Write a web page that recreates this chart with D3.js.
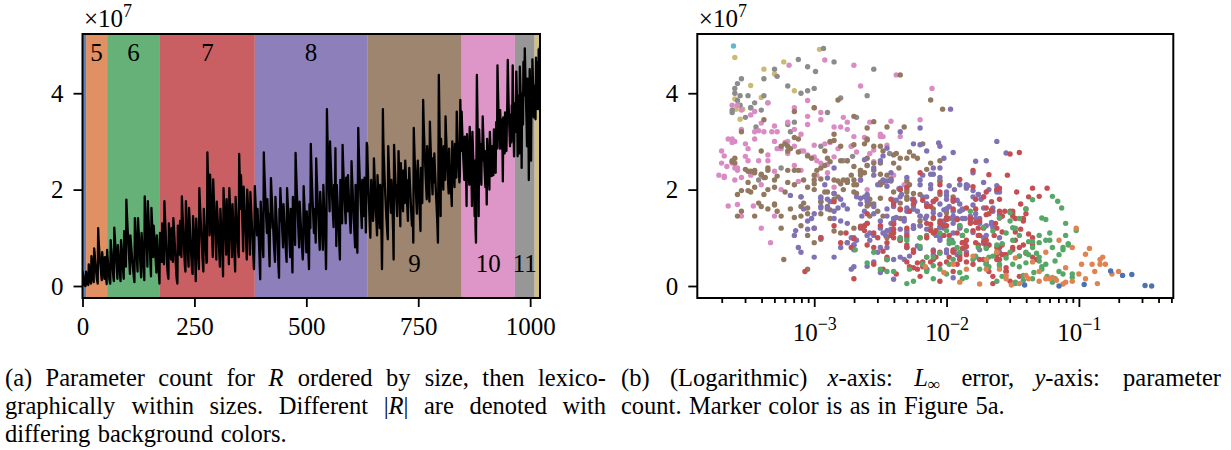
<!DOCTYPE html>
<html>
<head>
<meta charset="utf-8">
<script src="https://cdn.jsdelivr.net/npm/d3@7"></script>
<style>
body { margin: 0; background: #fff; }
</style>
</head>
<body>
<svg id="fig" width="1231" height="450"></svg>
<script>
// parameter counts (x 1e7) per |R|, in lexicographic order within each size
var p4 = [0.31,0.24,0.22,0.03,0.02,0.01,0.00,0.00];
var p5 = [0.30,0.22,0.15,0.08,0.04,0.02,
  0.45,0.35,0.28,0.18,0.10,0.05,
  0.62,0.50,0.40,0.30,0.15,0.08,
  0.78,0.70,0.55,0.45,0.35,0.25,0.15,0.10,0.05,
  1.20,0.95,0.80,0.66,0.55,0.45,0.35,0.22,0.12,
  0.70,0.58,0.45,0.38,0.25,0.15,
  0.60,0.45,0.30,0.15,0.04];
var p6 = [0.75,0.60,0.48,0.35,0.25,0.15,0.08,0.05,
  0.95,0.80,0.70,0.55,0.42,0.30,0.18,0.10,
  1.21,1.05,0.90,0.75,0.60,0.45,0.30,0.15,
  0.85,0.70,0.58,0.45,0.35,0.22,0.10,
  0.95,0.82,0.68,0.55,0.40,0.28,0.15,
  1.14,0.95,0.78,0.60,0.40,
  1.79,1.55,1.35,1.15,0.98,0.80,0.62,0.45,0.25,
  1.05,0.92,0.80,0.68,0.55,0.45,0.35,0.25,0.15,0.08,
  1.41,1.20,1.00,0.85,0.65,0.48,0.30,
  1.41,1.22,1.05,0.88,0.70,0.52,0.35,0.18,
  1.10,0.95,0.80,0.62,0.45,0.30,0.12,
  1.86,1.60,1.38,1.15,0.92,0.70,0.40,
  1.76,1.52,1.30,1.10,0.88,0.65,0.42,0.20,
  1.62,1.40,1.15,0.90,0.60,
  1.25,1.10,0.95,0.80,0.62,0.45,0.28,
  1.05,0.88,0.70,0.52,0.35,0.20,0.05];
var p7 = [1.10,0.95,0.80,0.65,0.50,1.30,1.12,0.90,0.70,0.45,
  1.76,1.50,1.28,1.05,0.85,0.65,0.45,0.30,0.20,0.15,
  1.30,1.15,1.00,0.85,0.70,0.55,1.20,0.98,0.75,0.50,
  1.41,1.25,1.08,0.90,0.72,0.55,0.38,0.20,0.10,0.05,
  1.25,1.10,0.95,0.80,0.65,1.35,1.15,0.90,0.60,
  1.86,1.62,1.40,1.18,0.95,0.75,0.55,0.38,0.30,
  1.76,1.50,1.25,1.00,0.78,0.55,0.40,
  1.62,1.42,1.20,1.00,0.82,0.62,0.45,0.30,0.25,
  1.45,1.28,1.10,0.92,0.72,0.50,0.10,
  1.40,1.22,1.05,0.85,0.68,0.50,0.35,
  2.03,1.80,1.58,1.38,1.18,0.98,0.80,0.60,0.45,0.30,
  1.60,1.42,1.25,1.05,0.85,0.65,0.48,0.50,
  2.77,2.40,2.10,1.80,1.50,1.05,
  2.31,2.05,1.80,1.55,1.30,0.90,0.60,
  2.21,1.95,1.70,1.48,1.25,1.00,0.75,0.55,
  1.75,1.55,1.38,1.20,1.00,0.80,0.60,0.40,
  1.60,1.40,1.20,1.00,0.80,0.55,0.20,
  2.03,1.80,1.58,1.35,1.12,0.90,0.65,
  1.80,1.55,1.30,1.05,0.80,0.45,
  2.03,1.78,1.55,1.32,1.10,0.85,0.60,
  1.70,1.50,1.30,1.10,0.85,0.55,0.30,
  1.85,1.65,1.45,1.25,1.05,0.85,0.70,0.60,
  2.74,2.35,1.95,1.60,
  2.30,2.00,1.70,1.40,1.05,0.72,
  2.06,1.85,1.65,1.45,1.25,1.05,0.80,0.55,
  2.00,1.80,1.60,1.40,1.15,0.90,0.65,
  1.95,1.75,1.55,1.35,1.15,0.95,0.75,0.55,0.35,0.85];
var p8 = [2.07,1.85,1.65,1.45,1.25,1.05,1.60,1.40,1.18,0.95,0.70,0.40,0.14,
  1.75,1.55,1.35,1.15,0.95,0.75,0.60,
  2.77,2.45,2.20,1.95,1.70,1.50,1.30,1.10,1.80,1.55,1.30,1.00,0.70,0.41,
  1.50,1.20,
  2.24,2.00,1.80,1.60,1.40,1.20,1.00,0.80,0.65,0.50,
  1.85,1.65,1.45,1.25,1.05,0.85,0.60,0.35,0.17,
  1.60,1.35,
  2.03,1.82,1.60,1.40,1.20,1.00,0.80,
  1.70,1.52,1.35,1.18,1.00,0.80,0.62,0.50,
  2.03,1.82,1.62,1.42,1.22,1.00,0.78,0.60,
  1.60,1.30,1.00,0.65,0.28,
  1.85,1.65,1.45,1.25,1.05,0.85,
  2.76,2.45,2.18,1.92,1.68,1.45,1.22,1.00,0.80,
  1.75,1.58,1.40,1.22,1.05,0.88,0.70,0.55,0.75,
  2.07,1.85,1.62,1.40,1.18,0.95,0.70,
  1.55,1.35,1.10,0.85,0.60,0.35,
  1.70,1.45,1.20,
  2.95,2.60,2.30,2.02,1.78,1.55,1.32,1.10,1.60,1.38,1.15,0.90,
  2.65,2.35,2.10,1.85,1.62,1.40,1.18,0.95,0.75,
  1.95,1.75,1.55,1.35,1.15,0.95,0.75,
  2.10,1.85,1.60,1.35,1.10,0.80,0.35,1.20,
  3.67,3.20,2.80,2.45,2.15,1.85,1.55,
  3.00,2.70,2.45,2.20,1.98,1.78,1.58,1.40,1.22,2.10,1.85,1.60,
  2.86,1.90,0.83,
  2.10,1.90,1.70,1.50,1.30,1.05,0.80,
  0.55,2.20,2.00,1.80,1.55,1.30,
  2.93,2.62,2.35,2.10,1.88,1.68,1.48,1.30,2.25,2.02,1.80,1.55,
  2.30,2.08,1.88,1.68,1.48,1.28,1.10,1.40,
  2.59,2.32,2.08,1.85,1.62,1.40,1.20,1.00,0.80,
  2.10,1.75,1.40,1.05,0.69,1.90,
  3.28,2.90,2.60,2.32,2.08,1.85,1.62,1.40,1.20,2.20,
  2.00,1.80,1.62,1.45,2.25,1.95,1.65,1.11,1.90,
  2.97];
var p9 = [2.90,2.55,2.25,1.95,1.70,1.45,1.20,1.00,1.65,
  2.20,1.95,1.75,1.55,1.35,1.50,
  2.65,2.40,2.15,1.90,1.68,1.45,1.25,1.05,
  2.30,2.05,1.82,1.60,1.40,1.20,
  2.10,1.80,1.45,1.05,0.35,1.20,
  3.67,3.03,2.70,2.45,2.20,1.98,1.78,1.58,1.40,1.25,1.10,
  0.97,
  2.90,2.60,2.35,2.12,1.90,1.70,1.52,2.20,1.95,1.70,1.45,1.10,
  0.55,
  2.93,2.65,2.40,2.18,1.98,1.80,1.62,1.45,2.10,1.85,
  2.80,2.40,2.00,1.60,
  1.24,
  2.55,2.32,2.12,1.92,1.72,1.55,2.40,2.18,1.95,1.72,
  2.60,2.38,2.15,1.95,1.75,1.55,1.35,2.20,1.90,
  2.45,2.22,2.00,1.80,1.60,1.42,1.25,1.65,1.40,
  0.90,
  3.28,2.95,2.65,2.40,2.15,1.92,1.70,1.50,2.30,
  2.60,2.35,2.10,1.85,1.60,1.40,
  1.14,
  2.45,2.20,1.95,1.72,2.55,
  3.86,3.45,3.15,2.90,2.65,2.42,2.20,2.00,1.80,2.90,2.65,2.40,2.18,1.95,1.75,
  3.41,3.08,2.80,2.55,2.32,2.10,1.90,2.65,2.40,2.15,
  2.75,2.50,2.28,2.05,1.85,1.65,1.45,1.20,
  0.90,
  2.30,
  4.38,3.70,3.05,2.40,
  1.45,
  3.05,2.80,2.58,2.38,2.18,2.00,2.90,2.65,2.42,2.20,
  3.52,3.20,2.95,2.72,2.50,2.30,2.10,1.92,2.85,2.60,2.38,2.18,2.00,1.85,
  1.66,
  3.00,2.78,2.58,2.40,2.22,2.05,2.95,2.70,2.48,2.25,
  3.62,3.30,3.02,2.78,2.55,2.35,2.15,2.30,
  3.86,3.30,2.80];
var p10 = [3.62,3.30,3.05,2.80,2.58,2.38,2.20,3.10,2.85,2.55,2.25,
  1.66,
  3.15,2.92,2.70,2.50,2.30,2.10,3.30,3.00,2.72,2.45,2.20,
  1.66,
  3.20,2.90,2.60,2.30,2.00,
  1.45,2.60,1.20,
  0.90,2.60,
  4.38,3.70,3.10,2.55,
  1.45,
  3.25,2.98,2.75,2.52,2.30,2.10,2.95,2.60,
  3.52,3.20,2.92,2.68,2.45,2.25,2.05,2.80,2.40,
  1.69,
  3.05,2.82,2.60,2.40,2.20,2.00,3.20,2.95,2.72,2.50,2.28,
  2.90,2.68,2.48,2.30,3.25,3.00,2.78,2.55,2.35,3.40,3.10,2.85,
  4.58,4.10,3.70,3.38,3.10,2.85,3.65,3.35,3.08,2.85,3.45,3.00,
  2.17,
  3.50,3.22,2.98,2.75,3.60,3.32,3.05,2.80,3.40,3.80,
  4.69,4.15,3.75,3.42,3.15,2.90,3.55,3.25,2.98,3.75,3.45,
  4.58,3.85,3.20,2.69,3.40];
var p11 = [3.80,3.50,3.20,4.45,4.10,3.80,2.69,3.95,3.65,3.30,2.75,
  4.55,4.20,3.90,3.60,2.45,4.00,3.70,3.35,4.65,4.30,3.95,
  4.93,4.50,4.10,3.75,3.40,2.90,4.30,3.95,3.60,2.20,3.65,
  4.50,4.15,3.85,2.60,4.05,3.70,4.70,4.35,4.00,3.50,3.95];
var p12 = [3.88,4.16,3.46,4.74,3.67,4.40,3.91,4.65,3.67,4.91,4.05,4.50];
var p13 = [4.98];

// log10 of the L-infinity error, same order as above
var e4 = [-0.76,-0.60,-0.67,-0.96,-1.41,-0.50,-0.45,-1.15];
var e5 = [-1.30,-1.55,-0.95,-1.90,-1.12,-1.51,-0.84,-1.70,-2.02,-1.20,
  -1.05,-1.45,-1.80,-1.35,-2.16,-0.88,-1.25,-1.10,-0.92,-1.62,
  -0.84,-0.98,-1.60,-1.00,-1.38,-1.30,-0.86,-1.02,-1.15,-1.05,
  -0.95,-1.70,-0.80,-1.85,-1.40,-1.17,-1.25,-1.48,-0.90,-1.10,
  -0.75,-1.55,-0.82,-1.95,-0.70,-1.22,-1.75];
var e6 = [-2.69,-1.30,-2.60,-1.75,-1.05,-2.10,-1.48,-2.30,-1.22,-1.92,
  -1.40,-2.45,-1.60,-1.15,-1.85,-2.25,-1.50,-1.30,-1.95,-1.12,
  -2.15,-1.70,-2.40,-1.35,-1.08,-2.55,-1.55,-1.98,-2.05,-1.42,
  -1.62,-1.25,-2.20,-2.05,-1.80,-1.28,-1.90,-1.18,-1.65,-2.30,
  -1.70,-2.10,-1.45,-1.35,-1.82,-1.52,-1.02,-2.35,-1.20,-1.65,
  -1.60,-2.00,-1.10,-1.38,-1.76,-1.32,-1.95,-1.50,-2.50,-1.12,
  -1.88,-1.20,-1.60,-1.48,-2.20,-1.62,-1.15,-1.40,-2.15,-1.28,
  -1.72,-1.45,-1.98,-1.52,-1.30,-2.28,-1.05,-1.55,-1.98,-1.12,
  -1.78,-1.25,-2.45,-1.42,-1.20,-1.40,-1.25,-2.00,-1.35,-1.90,
  -1.68,-1.16,-1.52,-1.10,-2.05,-1.58,-1.38,-2.10,-1.24,-1.13,
  -1.45,-1.85,-1.30,-1.68,-1.90,-1.22,-1.50,-1.35,-1.45,-2.18,
  -1.34,-1.88,-1.08,-1.62,-1.18,-1.28,-1.58,-1.48];
var e7 = [-2.10,-1.85,-2.55,-1.62,-2.30,-2.05,-1.48,-2.80,-2.25,-1.70,
  -1.95,-1.40,-2.40,-1.75,-2.60,-1.90,-2.05,-1.55,-2.20,-2.70,
  -1.63,-1.80,-2.15,-1.35,-1.95,-2.45,-1.72,-2.35,-1.50,-2.00,
  -1.60,-2.50,-1.38,-1.88,-2.10,-1.75,-2.25,-1.45,-2.05,-1.65,
  -2.85,-1.92,-1.48,-2.30,-1.58,-2.05,-2.62,-1.78,-2.15,-1.30,
  -1.85,-1.42,-2.40,-1.70,-1.95,-2.45,-1.55,-1.68,-2.10,-1.50,
  -2.02,-2.95,-1.88,-1.32,-2.28,-1.70,-2.00,-1.62,-2.20,-1.85,
  -1.45,-2.55,-1.95,-2.38,-1.58,-2.12,-2.76,-1.72,-1.95,-2.18,
  -1.52,-1.82,-2.65,-2.30,-1.76,-1.40,-2.12,-2.48,-1.60,-2.25,
  -1.66,-1.92,-1.44,-2.70,-1.60,-2.08,-1.80,-1.55,-2.35,-2.10,
  -1.90,-2.42,-1.68,-1.55,-2.22,-1.85,-1.45,-1.80,-2.05,-1.60,
  -2.60,-1.98,-1.68,-2.30,-1.78,-1.50,-2.15,-1.88,-2.45,-1.90,
  -1.47,-2.40,-1.70,-2.02,-1.35,-2.25,-1.72,-2.85,-1.56,-2.00,
  -1.76,-2.52,-1.62,-1.90,-2.18,-1.40,-1.82,-2.30,-2.40,-1.50,
  -2.10,-1.65,-1.24,-1.95,-2.35,-1.75,-1.58,-2.45,-1.85,-2.08,
  -1.60,-2.60,-2.02,-1.45,-1.92,-1.35,-2.18,-1.52,-1.78,-2.40,
  -1.42,-1.98,-2.25,-1.68,-1.82,-2.55,-2.30,-1.62,-3.07,-1.72,
  -2.12,-1.50,-2.62,-1.88,-1.58,-2.05,-1.35,-1.52,-2.20,-1.70,
  -1.95,-1.54,-2.35,-1.44,-2.00,-1.76,-2.48,-1.80,-1.38,-2.15,
  -1.58,-2.00,-1.64,-2.72,-1.90,-1.62,-2.42,-1.78,-1.48,-2.12,
  -1.86,-1.56,-2.05,-1.66,-2.28,-1.42,-2.08,-2.35,-1.94,-1.60,
  -2.22,-1.70];
var e8 = [-2.45,-1.80,-2.95,-2.15,-1.70,-2.60,-2.25,-1.95,-3.05,-2.35,
  -1.85,-2.70,-2.40,-2.10,-1.65,-2.50,-3.14,-2.05,-1.75,-2.85,
  -1.95,-2.55,-2.20,-1.60,-2.65,-3.00,-1.75,-2.30,-2.80,-1.90,
  -2.40,-2.05,-3.10,-2.60,-1.78,-2.25,-2.90,-1.62,-2.00,-2.45,
  -1.88,-2.65,-2.30,-2.80,-2.10,-1.70,-2.95,-2.40,-1.95,-2.20,
  -2.55,-1.68,-3.00,-2.15,-1.95,-2.75,-1.82,-2.35,-2.65,-2.00,
  -2.85,-2.25,-1.72,-2.45,-1.90,-2.10,-3.05,-2.15,-1.60,-2.50,
  -2.28,-2.55,-1.85,-2.95,-1.65,-2.38,-2.05,-2.70,-2.20,-1.78,
  -2.00,-2.60,-2.35,-1.92,-2.50,-3.10,-1.98,-2.45,-2.25,-1.70,
  -2.70,-1.55,-2.10,-2.45,-2.85,-1.80,-2.20,-1.65,-2.95,-2.30,
  -2.60,-1.88,-2.32,-2.05,-3.15,-1.72,-2.52,-2.40,-2.00,-1.85,
  -2.15,-2.90,-1.75,-2.42,-2.68,-1.60,-2.22,-2.80,-1.95,-2.70,
  -2.35,-2.15,-2.05,-1.82,-3.00,-2.25,-1.70,-2.55,-2.12,-1.92,
  -2.62,-1.66,-2.48,-3.08,-1.92,-2.30,-2.75,-2.02,-2.42,-1.85,
  -2.18,-2.95,-1.78,-2.35,-2.58,-2.10,-1.62,-2.88,-2.28,-2.02,
  -2.45,-1.96,-2.70,-2.20,-2.62,-1.88,-2.32,-2.08,-3.12,-2.72,
  -2.50,-1.97,-2.35,-2.15,-2.85,-1.72,-2.60,-1.95,-1.62,-2.48,
  -2.05,-2.65,-1.80,-2.38,-2.02,-3.02,-1.90,-2.52,-1.72,-2.25,
  -2.45,-1.76,-2.22,-1.90,-2.60,-2.15,-2.55,-2.75,-2.08,-1.86,
  -2.32,-2.48,-1.68,-2.90,-2.30,-1.95,-2.20,-2.62,-1.80,-2.12,
  -2.00,-2.78,-1.60,-2.42,-2.05,-2.36,-1.74,-2.85,-2.18,-1.98,
  -3.18,-2.25,-2.05,-1.66,-2.58,-2.40,-1.78,-2.12,-1.84,-2.68,
  -2.30,-1.92,-2.02,-2.72,-1.70,-2.92,-2.24,-1.86,-2.46,-2.00,
  -1.76,-2.20,-2.05,-2.50,-2.10,-1.62,-2.35,-2.82,-2.16,-1.90,
  -2.42,-1.94,-2.26,-1.72,-2.64,-2.30,-2.00,-2.55,-1.80,-2.34,
  -2.06];
var e9 = [-3.20,-2.55,-3.37,-2.90,-2.15,-3.10,-2.70,-2.45,-3.40,-2.85,
  -2.30,-2.95,-3.55,-2.40,-2.95,-2.60,-3.15,-2.75,-2.05,-3.30,
  -3.45,-2.20,-3.05,-2.65,-3.45,-2.50,-2.90,-2.35,-3.00,-2.70,
  -2.85,-3.25,-2.15,-3.05,-3.25,-2.03,-2.60,-2.25,-3.35,-2.75,
  -3.50,-2.40,-2.88,-2.10,-3.10,-2.42,-2.95,-2.50,-3.62,-2.62,
  -2.80,-3.38,-2.55,-2.00,-3.00,-2.40,-3.30,-2.20,-2.80,-3.23,
  -2.70,-2.90,-3.20,-2.30,-3.55,-2.60,-3.05,-2.48,-3.15,-1.95,
  -3.40,-2.65,-2.30,-3.35,-2.65,-2.12,-2.50,-3.00,-2.85,-3.42,
  -2.52,-3.12,-2.05,-3.48,-2.35,-2.80,-2.65,-3.20,-2.92,-2.40,
  -3.28,-2.20,-2.70,-3.58,-2.95,-2.42,-3.35,-2.58,-2.10,-3.15,
  -2.62,-3.10,-2.88,-2.75,-2.60,-3.22,-2.35,-2.98,-3.50,-2.25,
  -2.58,-3.05,-2.45,-2.75,-3.45,-2.28,-2.82,-3.18,-1.98,-2.85,
  -2.36,-3.30,-2.70,-3.08,-2.50,-2.12,-3.38,-2.85,-2.55,-2.22,
  -3.52,-2.78,-3.00,-2.30,-2.80,-3.60,-2.65,-2.05,-3.22,-2.95,
  -2.55,-3.15,-2.92,-2.40,-3.40,-2.68,-2.20,-3.02,-3.45,-2.50,
  -2.38,-2.60,-3.28,-3.05,-2.30,-2.90,-3.58,-2.12,-3.00,-2.72,
  -2.35,-3.00,-2.60,-3.35,-2.58,-3.12,-2.48,-2.88,-3.50,-2.42,
  -2.78,-3.25,-2.30,-2.15,-3.08,-2.70,-3.55,-2.62,-2.40,-2.92,
  -3.40,-2.50,-2.68,-3.18,-2.05,-3.48,-2.82,-2.35,-3.10,-2.60,
  -2.88,-2.28,-3.62,-2.55,-2.95,-3.30,-2.18,-3.05,-2.70,-3.38,
  -3.15,-2.45,-2.85,-3.12,-3.60,-2.65,-2.48,-3.00,-2.82,-2.32,
  -3.20];
var e10 = [-3.45,-2.85,-3.62,-3.10,-2.55,-3.30,-3.60,-2.70,-3.25,-2.95,
  -3.55,-3.46,-2.50,-3.00,-3.68,-3.15,-2.40,-3.40,-2.80,-3.20,
  -3.05,-3.58,-2.65,-3.65,-3.28,-2.72,-3.50,-3.72,-2.60,-3.55,
  -3.35,-3.40,-3.33,-2.98,-2.38,-3.15,-2.48,-3.70,-3.30,-2.75,
  -3.62,-3.20,-2.90,-3.48,-2.32,-3.52,-2.75,-3.05,-3.38,-2.45,
  -3.00,-3.60,-3.68,-2.85,-3.70,-3.10,-3.58,-3.65,-2.55,-3.42,
  -3.58,-2.65,-3.25,-3.45,-2.92,-3.35,-2.60,-3.68,-3.15,-2.85,
  -3.66,-2.98,-3.55,-3.30,-2.68,-3.62,-2.90,-3.20,-2.50,-3.50,
  -3.19,-2.11,-3.00,-3.40,-2.35,-2.82,-3.55,-3.05,-2.62,-3.28,
  -2.95,-3.60,-3.12,-2.78,-3.42,-3.22,-2.58,-2.95,-3.30,-3.45,
  -3.08,-2.75,-3.35,-2.92,-2.65,-3.58,-2.42,-3.10,-2.72,-3.48,
  -3.15,-2.88,-3.62,-2.20,-2.70,-3.05,-3.32,-3.52,-2.58];
var e11 = [-3.35,-3.52,-3.18,-2.99,-3.60,-3.45,-2.71,-3.56,-3.40,-3.44,
  -2.43,-3.05,-3.58,-2.80,-3.62,-3.25,-3.10,-3.48,-3.20,-2.85,
  -3.55,-2.60,-2.93,-3.30,-3.00,-3.56,-3.15,-2.95,-3.38,-3.50,
  -2.90,-3.42,-3.62,-2.55,-3.20,-3.58,-2.78,-3.05,-3.48,-3.12,
  -3.28,-3.60,-2.68,-3.38];
var e12 = [-3.60,-3.48,-3.56,-3.60,-3.54,-3.30,-3.40,-3.23,-3.59,-2.96,-3.15,-3.38];
var e13 = [-3.61];

var sizes = [4, 5, 6, 7, 8, 9, 10, 11, 12, 13];
var params = [p4, p5, p6, p7, p8, p9, p10, p11, p12, p13];
var errors = [e4, e5, e6, e7, e8, e9, e10, e11, e12, e13];
var colors = ["#4C72B0", "#DD8452", "#55A868", "#C44E52", "#8172B3",
              "#937860", "#DA8BC3", "#8C8C8C", "#CCB974", "#64B5CD"];
var labelsTop = [5, 6, 7, 8];
var labelsBottom = [9, 10, 11];
var xTicks = [0, 250, 500, 750, 1000];
var yTicks = [0, 2, 4];
var logTicks = [-3, -2, -1];

var captionA = ["(a) Parameter count for *R* ordered by size, then lexico-",
                "graphically within sizes. Different |*R*| are denoted with",
                "differing background colors."];
var captionB = ["(b) (Logarithmic) *x*-axis: *L*~∞~ error, *y*-axis: parameter",
                "count. Marker color is as in Figure 5a."];

var W = 1231, H = 450;
var fontSize = 25, capSize = 24.5, capLead = 28;
var L = {left: 82.5, right: 540, top: 34, bottom: 298};
var R = {left: 697.3, right: 1173.3, top: 34, bottom: 298};

var svg = d3.select("#fig").attr("font-family", "Liberation Serif");
svg.append("rect").attr("width", W).attr("height", H).attr("fill", "#fff");

// flatten the groups into one ordered list
var rows = [];
var bands = [];
sizes.forEach(function(s, i){
    var start = rows.length;
    params[i].forEach(function(v, j){
        rows.push({idx: rows.length, size: s, p: v, e: Math.pow(10, errors[i][j]), color: colors[i]});
    });
    bands.push({size: s, start: start, end: rows.length, color: colors[i]});
});

var pExt = d3.extent(rows, function(d){ return d.p; });
var pPad = 0.05 * (pExt[1] - pExt[0]);
var eExt = d3.extent(rows, function(d){ return Math.log10(d.e); });
var ePad = 0.05 * (eExt[1] - eExt[0]);

var xIdx = d3.scaleLinear().domain([0, rows.length - 1]).range([L.left, L.right]);
var yP = d3.scaleLinear().domain([pExt[0] - pPad, pExt[1] + pPad]).range([L.bottom, L.top]);
var xErr = d3.scaleLog().domain([Math.pow(10, eExt[0] - ePad), Math.pow(10, eExt[1] + ePad)]).range([R.left, R.right]);
var yP2 = d3.scaleLinear().domain(yP.domain()).range([R.bottom, R.top]);

var defs = svg.append("defs");
defs.append("clipPath").attr("id", "clipL").append("rect")
    .attr("x", L.left).attr("y", L.top).attr("width", L.right - L.left).attr("height", L.bottom - L.top);
defs.append("clipPath").attr("id", "clipR").append("rect")
    .attr("x", R.left).attr("y", R.top).attr("width", R.right - R.left).attr("height", R.bottom - R.top);

// ---- left panel ----
var gL = svg.append("g").attr("clip-path", "url(#clipL)");
gL.selectAll("rect.band").data(bands).enter().append("rect")
    .attr("class", "band")
    .attr("x", function(d){ return xIdx(d.start); })
    .attr("y", L.top)
    .attr("width", function(d){ return xIdx(d.end) - xIdx(d.start); })
    .attr("height", L.bottom - L.top)
    .attr("fill", function(d){ return d.color; })
    .attr("fill-opacity", 0.9);

var line = d3.line()
    .x(function(d){ return xIdx(d.idx); })
    .y(function(d){ return yP(d.p); });
gL.append("path").datum(rows)
    .attr("d", line)
    .attr("fill", "none")
    .attr("stroke", "#000")
    .attr("stroke-width", 2.3)
    .attr("stroke-linejoin", "round");

function bandCenter(s){
    var b = bands.filter(function(d){ return d.size === s; })[0];
    return xIdx((b.start + b.end) / 2);
}
svg.selectAll("text.lt").data(labelsTop).enter().append("text")
    .attr("class", "lt")
    .attr("x", bandCenter).attr("y", L.top + 27)
    .attr("text-anchor", "middle").attr("font-size", fontSize)
    .text(function(d){ return d; });
svg.selectAll("text.lb").data(labelsBottom).enter().append("text")
    .attr("class", "lb")
    .attr("x", bandCenter).attr("y", L.bottom - 26)
    .attr("text-anchor", "middle").attr("font-size", fontSize)
    .text(function(d){ return d; });

// ---- right panel ----
var gR = svg.append("g").attr("clip-path", "url(#clipR)");
gR.selectAll("circle").data(rows.slice().reverse()).enter().append("circle")
    .attr("cx", function(d){ return xErr(d.e); })
    .attr("cy", function(d){ return yP2(d.p); })
    .attr("r", 2.7)
    .attr("fill", function(d){ return d.color; });

// ---- axes ----
function styleAxis(g){
    g.select(".domain").remove();
    g.attr("font-size", fontSize).attr("font-family", "Liberation Serif");
    g.selectAll(".tick line").attr("stroke", "#000").attr("stroke-width", 1.8);
    g.selectAll(".tick text").attr("fill", "#000");
}

svg.append("g").attr("transform", "translate(0," + L.bottom + ")")
    .call(d3.axisBottom(xIdx).tickValues(xTicks).tickSize(9).tickPadding(10).tickFormat(d3.format("d")))
    .call(styleAxis);
svg.append("g").attr("transform", "translate(" + L.left + ",0)")
    .call(d3.axisLeft(yP).tickValues(yTicks).tickSize(9).tickPadding(10).tickFormat(d3.format("d")))
    .call(styleAxis);
svg.append("g").attr("transform", "translate(" + R.left + ",0)")
    .call(d3.axisLeft(yP2).tickValues(yTicks).tickSize(9).tickPadding(10).tickFormat(d3.format("d")))
    .call(styleAxis);

// minor log ticks
var minor = [];
var dom = xErr.domain();
for (var k = Math.floor(Math.log10(dom[0])); k <= Math.ceil(Math.log10(dom[1])); k++) {
    for (var m = 2; m <= 9; m++) {
        var v = m * Math.pow(10, k);
        if (v >= dom[0] && v <= dom[1]) minor.push(v);
    }
}
svg.append("g").attr("transform", "translate(0," + R.bottom + ")")
    .call(d3.axisBottom(xErr).tickValues(minor).tickSize(5).tickFormat(""))
    .call(styleAxis);
var gLog = svg.append("g").attr("transform", "translate(0," + R.bottom + ")")
    .call(d3.axisBottom(xErr).tickValues(logTicks.map(function(k){ return Math.pow(10, k); }))
        .tickSize(9).tickPadding(10).tickFormat(""))
    .call(styleAxis);
gLog.selectAll(".tick").each(function(d){
    var t = d3.select(this).select("text").attr("dy", null).attr("y", 43);
    t.append("tspan").text("10");
    t.append("tspan").attr("font-size", 18).attr("dy", -11).text("\u2212" + Math.round(-Math.log10(d)));
});

// frames
[L, R].forEach(function(a){
    svg.append("rect")
        .attr("x", a.left).attr("y", a.top)
        .attr("width", a.right - a.left).attr("height", a.bottom - a.top)
        .attr("fill", "none").attr("stroke", "#000").attr("stroke-width", 2);
});

// offset labels
[L, R].forEach(function(a){
    var t = svg.append("text").attr("x", a.left + 1.5).attr("y", a.top - 7).attr("font-size", fontSize);
    t.append("tspan").text("\u00d710");
    t.append("tspan").attr("font-size", 18).attr("dy", -10).text("7");
});

// ---- captions (justified) ----
function parseWord(w){
    return w.split(/(\*[^*]+\*|~[^~]+~)/).filter(function(s){ return s.length > 0; });
}
function drawCaption(lines, x0, x1, y0){
    lines.forEach(function(ln, li){
        var words = ln.split(" ");
        var nodes = words.map(function(w){
            var t = svg.append("text").attr("font-size", capSize).attr("x", 0).attr("y", y0 + li * capLead);
            parseWord(w).forEach(function(part){
                if (part[0] === "*") t.append("tspan").attr("font-style", "italic").text(part.slice(1, -1));
                else if (part[0] === "~") t.append("tspan").attr("font-size", capSize * 0.7).attr("dy", capSize * 0.18).text(part.slice(1, -1));
                else t.append("tspan").text(part);
            });
            return t;
        });
        var widths = nodes.map(function(n){
            return Math.max(n.node().getComputedTextLength(), n.node().getBBox().width);
        });
        var last = li === lines.length - 1;
        var gap = last ? capSize * 0.3 : (x1 - x0 - d3.sum(widths)) / (words.length - 1);
        var x = x0;
        nodes.forEach(function(n, i){
            n.attr("x", x);
            x += widths[i] + gap;
        });
    });
}
drawCaption(captionA, 5, 606, 386);
drawCaption(captionB, 621, 1221, 386);
</script>
</body>
</html>
